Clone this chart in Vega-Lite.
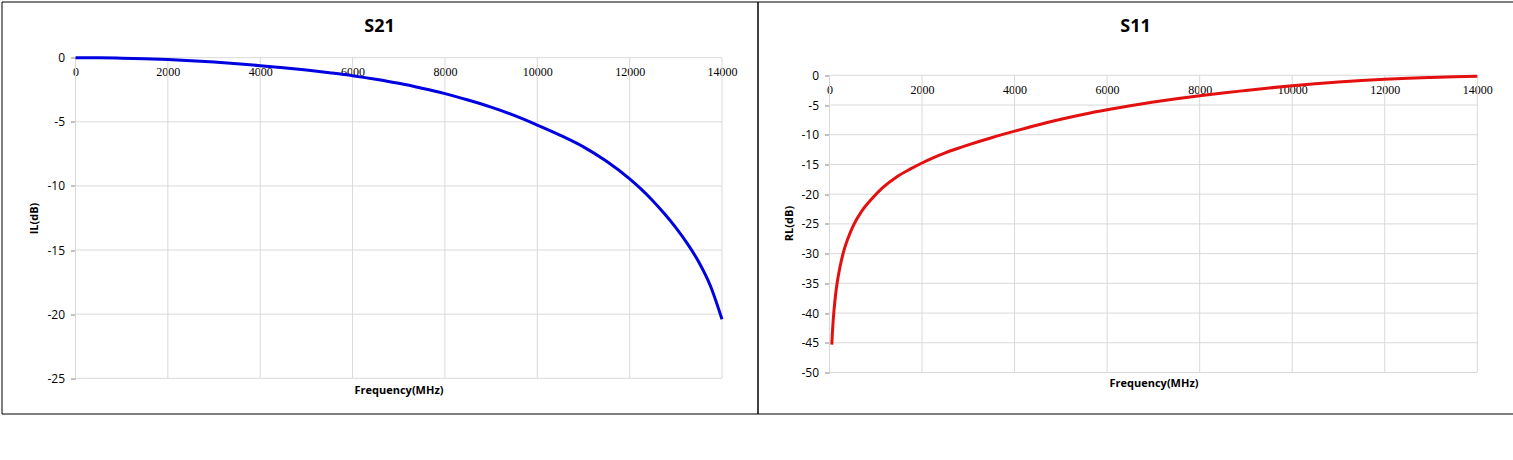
{
  "$schema": "https://vega.github.io/schema/vega-lite/v6.json",
  "padding": {"left": 0.5, "top": 0.5, "right": 0, "bottom": 0},
  "spacing": 0,
  "bounds": "flush",
  "datasets": {
    "xgrid": [{"f": 0}, {"f": 2000}, {"f": 4000}, {"f": 6000}, {"f": 8000}, {"f": 10000}, {"f": 12000}, {"f": 14000}],
    "ygrid21": [{"v": 0}, {"v": -5}, {"v": -10}, {"v": -15}, {"v": -20}, {"v": -25}],
    "ygrid11": [{"v": 0}, {"v": -5}, {"v": -10}, {"v": -15}, {"v": -20}, {"v": -25}, {"v": -30}, {"v": -35}, {"v": -40}, {"v": -45}, {"v": -50}],
    "s21": [
      {"f": 0, "v": 0}, {"f": 500, "v": -0.01}, {"f": 1000, "v": -0.04}, {"f": 1500, "v": -0.085},
      {"f": 2000, "v": -0.15}, {"f": 2500, "v": -0.24}, {"f": 3000, "v": -0.34}, {"f": 3500, "v": -0.47},
      {"f": 4000, "v": -0.62}, {"f": 4500, "v": -0.78}, {"f": 5000, "v": -0.96}, {"f": 5500, "v": -1.17},
      {"f": 6000, "v": -1.4}, {"f": 6500, "v": -1.68}, {"f": 7000, "v": -2.0}, {"f": 7500, "v": -2.38},
      {"f": 8000, "v": -2.8}, {"f": 8500, "v": -3.3}, {"f": 9000, "v": -3.85}, {"f": 9500, "v": -4.5},
      {"f": 10000, "v": -5.25}, {"f": 10500, "v": -6.05}, {"f": 11000, "v": -6.95}, {"f": 11500, "v": -8.08},
      {"f": 12000, "v": -9.45}, {"f": 12250, "v": -10.25}, {"f": 12500, "v": -11.15}, {"f": 12750, "v": -12.15},
      {"f": 13000, "v": -13.25}, {"f": 13250, "v": -14.5}, {"f": 13500, "v": -15.95}, {"f": 13750, "v": -17.8},
      {"f": 14000, "v": -20.4}
    ],
    "s11": [
      {"f": 50, "v": -45.3}, {"f": 60, "v": -43.7}, {"f": 75, "v": -41.8}, {"f": 100, "v": -39.3},
      {"f": 130, "v": -37.0}, {"f": 170, "v": -34.7}, {"f": 220, "v": -32.5}, {"f": 300, "v": -29.8},
      {"f": 400, "v": -27.4}, {"f": 520, "v": -25.2}, {"f": 700, "v": -22.8}, {"f": 900, "v": -20.9},
      {"f": 1150, "v": -18.9}, {"f": 1450, "v": -17.1}, {"f": 1750, "v": -15.75}, {"f": 2000, "v": -14.75},
      {"f": 2250, "v": -13.85}, {"f": 2500, "v": -13.05}, {"f": 2750, "v": -12.35}, {"f": 3000, "v": -11.7},
      {"f": 3500, "v": -10.5}, {"f": 4000, "v": -9.4},
      {"f": 4500, "v": -8.35}, {"f": 5000, "v": -7.4}, {"f": 5500, "v": -6.55}, {"f": 6000, "v": -5.8},
      {"f": 6500, "v": -5.12}, {"f": 7000, "v": -4.5}, {"f": 7500, "v": -3.95}, {"f": 8000, "v": -3.45},
      {"f": 8500, "v": -2.98}, {"f": 9000, "v": -2.55}, {"f": 9500, "v": -2.13}, {"f": 10000, "v": -1.75},
      {"f": 10500, "v": -1.42}, {"f": 11000, "v": -1.13}, {"f": 11500, "v": -0.88}, {"f": 12000, "v": -0.67},
      {"f": 12500, "v": -0.49}, {"f": 13000, "v": -0.35}, {"f": 13500, "v": -0.24}, {"f": 14000, "v": -0.17}
    ]
  },
  "hconcat": [
    {
      "width": 756,
      "height": 412,
      "title": {"text": "S21", "offset": -34},
      "layer": [
        {
          "data": {"name": "xgrid"},
          "mark": {"type": "rule", "color": "#d9d9d9", "strokeWidth": 1},
          "encoding": {
            "x": {"field": "f", "type": "quantitative"},
            "y": {"datum": 0, "type": "quantitative"},
            "y2": {"datum": -25}
          }
        },
        {
          "data": {"name": "ygrid21"},
          "mark": {"type": "rule", "color": "#d9d9d9", "strokeWidth": 1},
          "encoding": {
            "y": {"field": "v", "type": "quantitative"},
            "x": {"datum": 0, "type": "quantitative"},
            "x2": {"datum": 14000}
          }
        },
        {
          "mark": {"type": "rule", "color": "#868686", "strokeWidth": 1},
          "encoding": {
            "x": {"datum": 0, "type": "quantitative"},
            "y": {"datum": 0, "type": "quantitative"},
            "y2": {"datum": -25}
          }
        },
        {
          "mark": {"type": "rule", "color": "#868686", "strokeWidth": 1},
          "encoding": {
            "y": {"datum": 0, "type": "quantitative"},
            "x": {"datum": 0, "type": "quantitative"},
            "x2": {"datum": 14000}
          }
        },
        {
          "data": {"name": "s21"},
          "mark": {"type": "line", "color": "#0000e0", "strokeWidth": 3, "interpolate": "monotone"},
          "encoding": {
            "x": {
              "field": "f",
              "type": "quantitative",
              "scale": {"domain": [-1602.5, 14768.7], "nice": false, "zero": false},
              "axis": {
                "orient": "bottom",
                "offset": -355.8,
                "values": [0, 2000, 4000, 6000, 8000, 10000, 12000, 14000],
                "labelExpr": "'' + datum.value",
                "title": "Frequency(MHz)",
                "titleX": 397,
                "titleY": 332.3
              }
            },
            "y": {
              "field": "v",
              "type": "quantitative",
              "scale": {"domain": [-27.745, 4.382], "nice": false, "zero": false},
              "axis": {
                "orient": "left",
                "offset": -74,
                "values": [0, -5, -10, -15, -20, -25],
                "labelExpr": "'' + datum.value",
                "title": "IL(dB)",
                "titleX": -41.5,
                "titleY": 216.5
              }
            }
          }
        }
      ]
    },
    {
      "width": 756,
      "height": 412,
      "title": {"text": "S11", "offset": -34},
      "layer": [
        {
          "data": {"name": "xgrid"},
          "mark": {"type": "rule", "color": "#d9d9d9", "strokeWidth": 1},
          "encoding": {
            "x": {"field": "f", "type": "quantitative"},
            "y": {"datum": 0, "type": "quantitative"},
            "y2": {"datum": -50}
          }
        },
        {
          "data": {"name": "ygrid11"},
          "mark": {"type": "rule", "color": "#d9d9d9", "strokeWidth": 1},
          "encoding": {
            "y": {"field": "v", "type": "quantitative"},
            "x": {"datum": 0, "type": "quantitative"},
            "x2": {"datum": 14000}
          }
        },
        {
          "mark": {"type": "rule", "color": "#868686", "strokeWidth": 1},
          "encoding": {
            "x": {"datum": 0, "type": "quantitative"},
            "y": {"datum": 0, "type": "quantitative"},
            "y2": {"datum": -50}
          }
        },
        {
          "mark": {"type": "rule", "color": "#868686", "strokeWidth": 1},
          "encoding": {
            "y": {"datum": 0, "type": "quantitative"},
            "x": {"datum": 0, "type": "quantitative"},
            "x2": {"datum": 14000}
          }
        },
        {
          "data": {"name": "s11"},
          "mark": {"type": "line", "color": "#e41010", "strokeWidth": 3, "interpolate": "monotone"},
          "encoding": {
            "x": {
              "field": "f",
              "type": "quantitative",
              "scale": {"domain": [-1556.1, 14782.6], "nice": false, "zero": false},
              "axis": {
                "orient": "bottom",
                "offset": -338.2,
                "values": [0, 2000, 4000, 6000, 8000, 10000, 12000, 14000],
                "labelExpr": "'' + datum.value",
                "title": "Frequency(MHz)",
                "titleX": 396,
                "titleY": 307.7
              }
            },
            "y": {
              "field": "v",
              "type": "quantitative",
              "scale": {"domain": [-56.898, 12.416], "nice": false, "zero": false},
              "axis": {
                "orient": "left",
                "offset": -72,
                "values": [0, -5, -10, -15, -20, -25, -30, -35, -40, -45, -50],
                "labelExpr": "'' + datum.value",
                "title": "RL(dB)",
                "titleX": -40.5,
                "titleY": 221.5
              }
            }
          }
        }
      ]
    }
  ],
  "config": {
    "view": {"stroke": "#000000", "strokeWidth": 1},
    "concat": {"spacing": 0},
    "title": {"font": "Open Sans", "fontSize": 18, "fontWeight": "bold", "color": "#000000", "anchor": "middle", "frame": "group"},
    "axis": {
      "grid": false,
      "domain": false,
      "labelFlush": false,
      "labelOverlap": false,
      "titleFont": "Open Sans",
      "titleFontSize": 11,
      "titleFontWeight": "bold",
      "titleColor": "#000000",
      "titleAlign": "center",
      "titleBaseline": "middle"
    },
    "axisX": {
      "ticks": false,
      "tickSize": 0,
      "labelPadding": 9,
      "labelFont": "Liberation Serif",
      "labelFontSize": 12,
      "labelColor": "#000000"
    },
    "axisY": {
      "ticks": true,
      "tickSize": 5,
      "tickColor": "#868686",
      "labelPadding": 6,
      "labelFont": "Open Sans",
      "labelFontSize": 12,
      "labelColor": "#000000",
      "titleAngle": -90
    }
  }
}
